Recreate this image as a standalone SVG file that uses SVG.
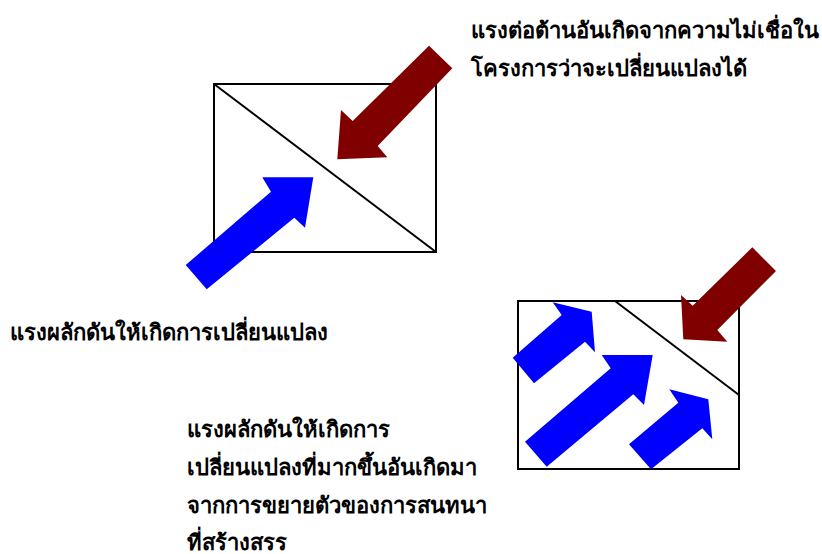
<svg xmlns="http://www.w3.org/2000/svg" width="822" height="554" viewBox="0 0 822 554">
<style>
  .box{fill:#fff;stroke:#000;stroke-width:2}
  .line{stroke:#000;stroke-width:2;fill:none}
  .push{fill:#0000ff}
  .resist{fill:#800000}
  text{font-family:"DejaVu Sans","Noto Sans",sans-serif;font-weight:bold;font-size:22px;fill:#000}
</style>
<rect width="822" height="554" fill="#fff"/>
<g id="box1">
  <rect class="box" x="214" y="84" width="222" height="168"/>
  <line class="line" x1="214" y1="84" x2="436" y2="252"/>
</g>
<g id="box2">
  <rect class="box" x="518" y="301" width="221" height="168"/>
  <line class="line" x1="615" y1="301" x2="739" y2="395"/>
</g>
<g id="connectors">
  <polygon id="resist1" class="resist" points="429,45.7 452.3,68.3 377.7,146 387.3,157.3 337.3,159.3 341,110 352.7,121"/>
  <polygon id="push1" class="push" points="185.7,265 271,191.7 262.3,177.3 313.3,177.3 305,227.7 294.3,217.7 206.7,289.3"/>
  <polygon id="resist2" class="resist" points="752.3,247.3 776,271 717.3,330 727.3,341.7 683.3,339.3 681,295 692.7,305.7"/>
  <polygon id="pushA" class="push" points="512.7,357.7 561.7,315 552.7,302.3 591.7,311.7 595,352.3 585,341.7 534,383.3"/>
  <polygon id="pushB" class="push" points="525,441.7 610.7,368.3 601.7,355 652.7,355 644,405 633.3,394.3 546.7,466.7"/>
  <polygon id="pushC" class="push" points="629,444.3 678.3,402.7 669.3,389.3 708.3,399.3 712.3,439.3 702.3,428.3 651,469.3"/>
</g>
<g id="label-resist">
  <text x="471" y="38">แรงต่อต้านอันเกิดจากความไม่เชื่อใน</text>
  <text x="471" y="76">โครงการว่าจะเปลี่ยนแปลงได้</text>
</g>
<g id="label-push">
  <text x="10" y="340">แรงผลักดันให้เกิดการเปลี่ยนแปลง</text>
</g>
<g id="label-push-more">
  <text x="187" y="437">แรงผลักดันให้เกิดการ</text>
  <text x="187" y="475">เปลี่ยนแปลงที่มากขึ้นอันเกิดมา</text>
  <text x="187" y="513">จากการขยายตัวของการสนทนา</text>
  <text x="187" y="550">ที่สร้างสรร</text>
</g>
</svg>
